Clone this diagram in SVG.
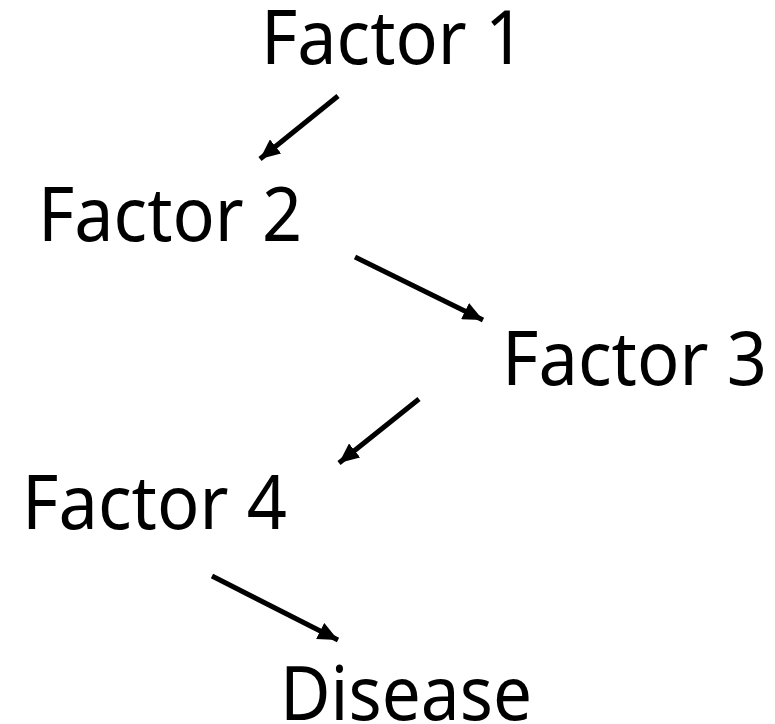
<svg xmlns="http://www.w3.org/2000/svg" width="775" height="724" viewBox="0 0 775 724">
<style>
.lbl{font-family:"Noto Sans","DejaVu Sans",sans-serif;font-size:75px;fill:#000}
.conn{stroke:#000;stroke-width:5;fill:none;marker-end:url(#ah)}
</style>
<defs>
<marker id="ah" markerUnits="userSpaceOnUse" markerWidth="22" markerHeight="18" refX="20" refY="9" orient="auto">
<path d="M0,0 L20,9 L0,18 Z" fill="#000"/>
</marker>
</defs>
<rect width="775" height="724" fill="#fff"/>
<g id="connectors">
<line class="conn" x1="338" y1="96" x2="260" y2="159"/>
<line class="conn" x1="355" y1="257" x2="483" y2="320"/>
<line class="conn" x1="419" y1="399" x2="339" y2="463"/>
<line class="conn" x1="212" y1="576" x2="338" y2="640"/>
</g>
<g id="factor1"><text class="lbl" x="261" y="64" textLength="264" lengthAdjust="spacingAndGlyphs">Factor 1</text></g>
<g id="factor2"><text class="lbl" x="38" y="241" textLength="264" lengthAdjust="spacingAndGlyphs">Factor 2</text></g>
<g id="factor3"><text class="lbl" x="502" y="385" textLength="265" lengthAdjust="spacingAndGlyphs">Factor 3</text></g>
<g id="factor4"><text class="lbl" x="22" y="529" textLength="265" lengthAdjust="spacingAndGlyphs">Factor 4</text></g>
<g id="disease"><text class="lbl" x="280" y="720" textLength="252" lengthAdjust="spacingAndGlyphs">Disease</text></g>
</svg>
